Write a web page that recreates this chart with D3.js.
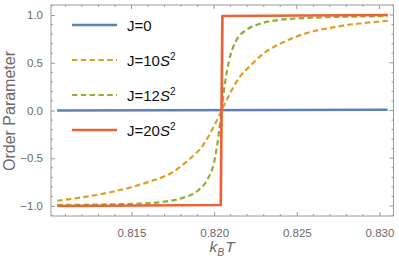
<!DOCTYPE html>
<html><head><meta charset="utf-8">
<script src="https://cdn.jsdelivr.net/npm/d3@7"></script>
<style>html,body{margin:0;padding:0;background:#fff;}</style>
</head><body>
<svg id="c" width="399" height="258"></svg>
<script>
// ---- data ----
const seriesNames = ["J=0", "J=10S2", "J=12S2", "J=20S2"];
const tJ0 = [0.8105, 0.8305];
const vJ0 = [0.0, 0.008];
const tJ10 = [0.8105, 0.8120, 0.8140, 0.8160, 0.8175, 0.8185, 0.8193, 0.8200, 0.82045, 0.8209, 0.8215, 0.8222, 0.8230, 0.8240, 0.8250, 0.8260, 0.8270, 0.8280, 0.8290, 0.8305];
const vJ10 = [-0.945, -0.91, -0.845, -0.75, -0.645, -0.51, -0.37, -0.16, 0, 0.16, 0.34, 0.47, 0.60, 0.70, 0.775, 0.83, 0.865, 0.895, 0.915, 0.94];
const tJ12 = [0.8105, 0.8130, 0.8155, 0.8170, 0.8180, 0.8190, 0.8196, 0.8200, 0.8203, 0.82045, 0.8206, 0.8209, 0.8213, 0.8220, 0.8228, 0.8240, 0.8260, 0.8280, 0.8305];
const vJ12 = [-0.99, -0.985, -0.975, -0.955, -0.92, -0.84, -0.72, -0.54, -0.22, 0, 0.22, 0.52, 0.72, 0.85, 0.91, 0.95, 0.972, 0.982, 0.988];
const tJ20 = [0.8105, 0.8204, 0.82045, 0.8205, 0.8305];
const vJ20 = [-1, -0.99, 0, 0.99, 1];
const xTicks = [0.815, 0.820, 0.825, 0.830];
const yTicks = [-1.0, -0.5, 0.0, 0.5, 1.0];
const colors = ["#5E81B5", "#E19C24", "#8FB032", "#EB6235"];

// ---- layout ----
const L = 51, R = 393.5, T = 5, B = 216;
const svg = d3.select("#c");
const x = d3.scaleLinear().domain([0.81013, 0.83085]).range([L, R]);
const y = d3.scaleLinear().domain([-1.105, 1.105]).range([B, T]);
const frameCol = "#999999", labCol = "#6a6a6a";
const font = "'Liberation Sans', Arial, sans-serif";

const xMinor = d3.range(0.811, 0.8305, 0.001).filter(v => Math.abs(v*200 - Math.round(v*200)) > 1e-6);
const yMinor = d3.range(-1.1, 1.1001, 0.1).filter(v => Math.abs(v*2 - Math.round(v*2)) > 1e-6);

const bottom = d3.axisBottom(x).tickValues(xTicks).tickFormat(d3.format(".3f")).tickSizeInner(-4).tickSizeOuter(0).tickPadding(13);
const gB = svg.append("g").attr("transform", `translate(0,${B})`).call(bottom);
const left = d3.axisLeft(y).tickValues(yTicks).tickFormat(d => d3.format(".1f")(d).replace("-", "\u2212")).tickSizeInner(-4).tickSizeOuter(0).tickPadding(8);
const gL = svg.append("g").attr("transform", `translate(${L},0)`).call(left);
[gB, gL].forEach(g => {
  g.select(".domain").remove();
  g.selectAll("line").attr("stroke", frameCol);
  g.selectAll("text").attr("fill", labCol).style("font-family", font).style("font-size", "11.5px");
});
const tg = svg.append("g").attr("stroke", frameCol).attr("stroke-width", 1);
xMinor.forEach(v => {
  tg.append("line").attr("x1", x(v)).attr("x2", x(v)).attr("y1", B).attr("y2", B - 2);
  tg.append("line").attr("x1", x(v)).attr("x2", x(v)).attr("y1", T).attr("y2", T + 2);
});
xTicks.forEach(v => tg.append("line").attr("x1", x(v)).attr("x2", x(v)).attr("y1", T).attr("y2", T + 4));
yMinor.forEach(v => {
  tg.append("line").attr("y1", y(v)).attr("y2", y(v)).attr("x1", L).attr("x2", L + 2);
  tg.append("line").attr("y1", y(v)).attr("y2", y(v)).attr("x1", R).attr("x2", R - 2);
});
yTicks.forEach(v => tg.append("line").attr("y1", y(v)).attr("y2", y(v)).attr("x1", R).attr("x2", R - 4));

svg.append("rect").attr("x", L).attr("y", T).attr("width", R - L).attr("height", B - T)
  .attr("fill", "none").attr("stroke", frameCol).attr("stroke-width", 1);

// curves
const line = d3.line().x(d => x(d[0])).y(d => y(d[1])).curve(d3.curveMonotoneX);
const lineStraight = d3.line().x(d => x(d[0])).y(d => y(d[1]));
const data = [d3.zip(tJ0, vJ0), d3.zip(tJ10, vJ10), d3.zip(tJ12, vJ12), d3.zip(tJ20, vJ20)];
const dashes = [null, "5.5,3.3", "5.5,3.3", null];
const widths = [2.5, 2.2, 2.2, 2.7];
data.forEach((d, i) => {
  svg.append("path").datum(d).attr("d", i === 3 ? lineStraight(d) : line(d))
    .attr("fill", "none").attr("stroke", colors[i]).attr("stroke-width", widths[i])
    .attr("stroke-dasharray", dashes[i]).attr("stroke-linejoin", "round");
});

// legend
const legY = [25, 60, 95, 130];
const leg = svg.append("g");
seriesNames.forEach((n, i) => {
  leg.append("line").attr("x1", 72).attr("x2", 117).attr("y1", legY[i]).attr("y2", legY[i])
    .attr("stroke", colors[i]).attr("stroke-width", widths[i]).attr("stroke-dasharray", dashes[i]);
  const t = leg.append("text").attr("x", 127).attr("y", legY[i] + 5.5)
    .style("font-family", font).style("font-size", "15px").attr("fill", "#111");
  if (n === "J=0") { t.text("J=0"); }
  else {
    const num = n.slice(2, 4);
    t.append("tspan").text("J=" + num);
    t.append("tspan").text("S").style("font-style", "italic");
    t.append("tspan").text("2").attr("dy", -6).style("font-size", "10px");
  }
});

// axis titles
svg.append("text").attr("transform", "translate(15,111) rotate(-90)").attr("text-anchor", "middle")
  .style("font-family", font).style("font-size", "16px").attr("fill", labCol).text("Order Parameter");
const xl = svg.append("text").attr("x", 222).attr("y", 252).attr("text-anchor", "middle")
  .style("font-family", font).style("font-size", "15.5px").attr("fill", labCol);
xl.append("tspan").text("k").style("font-style", "italic");
xl.append("tspan").text("B").style("font-style", "italic").style("font-size", "10.5px").attr("dy", 4);
xl.append("tspan").text("T").style("font-style", "italic").attr("dy", -4).attr("dx", 1);
</script>
</body></html>
